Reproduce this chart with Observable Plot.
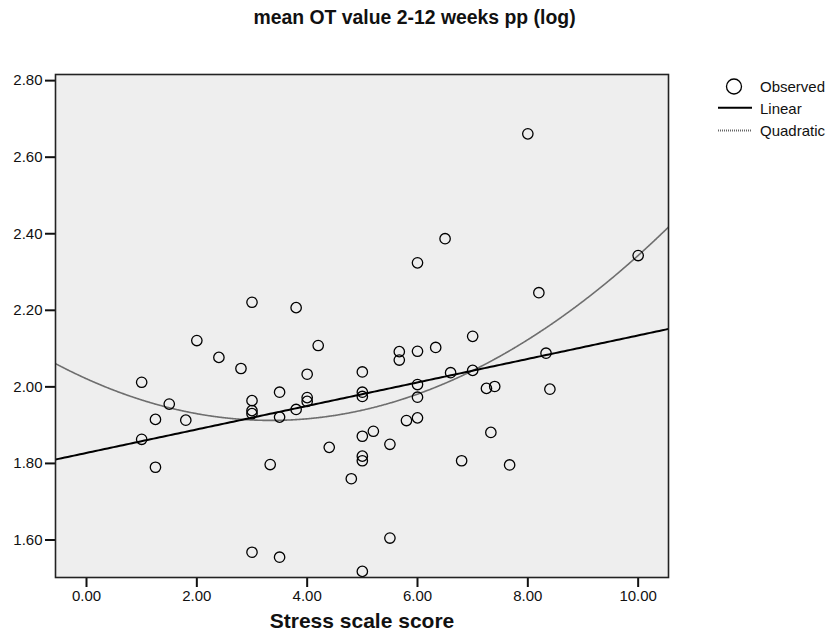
<!DOCTYPE html>
<html><head><meta charset="utf-8">
<script src="https://cdn.jsdelivr.net/npm/d3@7"></script>
<script src="https://cdn.jsdelivr.net/npm/@observablehq/plot@0.6"></script>
<style>
body{margin:0;background:#fff;font-family:"Liberation Sans",Arial,sans-serif;}
#wrap{position:relative;width:829px;height:642px;overflow:hidden;}
#title{position:absolute;left:0;top:8px;width:829px;text-align:center;font-weight:bold;font-size:19.4px;line-height:19px;color:#111;}
#chart{position:absolute;left:0;top:0;}
#legend{position:absolute;left:700px;top:70px;}
</style></head><body>
<div id="wrap">
<div id="chart"></div>
<div id="title">mean OT value 2-12 weeks pp (log)</div>
<svg id="legend" width="129" height="80" font-family="Liberation Sans, Arial, sans-serif" font-size="15">
  <circle cx="34" cy="16.5" r="7.5" fill="none" stroke="#000" stroke-width="1.3"></circle>
  <text x="60" y="21.5" fill="#111">Observed</text>
  <line x1="18" x2="52" y1="37.7" y2="37.7" stroke="#000" stroke-width="2"></line>
  <text x="60" y="43.5" fill="#111">Linear</text>
  <line x1="18" x2="52" y1="60.5" y2="60.5" stroke="#666" stroke-width="2" stroke-dasharray="1,1"></line>
  <text x="60" y="65.5" fill="#111">Quadratic</text>
</svg>
</div>
<script>
const titleText = "mean OT value 2-12 weeks pp (log)";
const xLabel = "Stress scale score";
const stress = [1.0,1.0,1.25,1.25,1.5,1.8,2.0,2.4,2.8,3.0,3.0,3.0,3.0,3.0,3.33,3.5,3.5,3.5,3.8,3.8,4.0,4.0,4.0,4.2,4.4,4.8,5.0,5.0,5.0,5.0,5.0,5.0,5.0,5.2,5.5,5.5,5.67,5.67,5.8,6.0,6.0,6.0,6.0,6.0,6.33,6.5,6.6,6.8,7.0,7.0,7.25,7.33,7.4,7.67,8.0,8.2,8.33,8.4,10.0];
const meanOT = [2.012,1.863,1.915,1.790,1.955,1.913,2.121,2.077,2.048,2.221,1.964,1.938,1.930,1.568,1.797,1.986,1.921,1.555,2.207,1.941,2.033,1.972,1.962,2.108,1.842,1.760,2.039,1.986,1.975,1.871,1.819,1.807,1.518,1.884,1.850,1.605,2.092,2.070,1.912,2.324,2.093,2.006,1.973,1.919,2.103,2.387,2.037,1.807,2.132,2.043,1.996,1.881,2.001,1.796,2.661,2.246,2.088,1.994,2.343];
const xTicks = [0,2,4,6,8,10];
const yTicks = [1.6,1.8,2.0,2.2,2.4,2.6,2.8];
const xDomain = [-0.562, 10.55];
const yDomain = [1.502, 2.816];

const points = stress.map((x,i)=>({x, y: meanOT[i]}));

// least-squares polynomial fit of the observed points
function polyfit(xs, ys, deg){
  const n = deg+1;
  const A = Array.from({length:n},()=>new Array(n+1).fill(0));
  for(let k=0;k<xs.length;k++){
    for(let i=0;i<n;i++){
      for(let j=0;j<n;j++) A[i][j]+=Math.pow(xs[k],i+j);
      A[i][n]+=ys[k]*Math.pow(xs[k],i);
    }
  }
  for(let i=0;i<n;i++){
    let p=i; for(let r=i+1;r<n;r++) if(Math.abs(A[r][i])>Math.abs(A[p][i])) p=r;
    [A[i],A[p]]=[A[p],A[i]];
    for(let r=0;r<n;r++){ if(r===i) continue; const f=A[r][i]/A[i][i]; for(let c=i;c<=n;c++) A[r][c]-=f*A[i][c]; }
  }
  return A.map((row,i)=>row[n]/row[i]);
}
const lin = polyfit(stress, meanOT, 1);
const quad = polyfit(stress, meanOT, 2);
const xs = d3.range(0, 201).map(i => xDomain[0] + (xDomain[1]-xDomain[0])*i/200);
const fitLin = xs.map(x => ({x, y: lin[0]+lin[1]*x}));
const fitQuad = xs.map(x => ({x, y: quad[0]+quad[1]*x+quad[2]*x*x}));

const chart = Plot.plot({
  width: 829, height: 642,
  marginLeft: 55, marginRight: 161, marginTop: 74, marginBottom: 65,
  style: {fontFamily: "Liberation Sans, Arial, sans-serif", fontSize: "15px", color: "#111", background: "transparent"},
  x: {domain: xDomain},
  y: {domain: yDomain},
  marks: [
    Plot.frame({fill: "#eeeeee", stroke: null}),
    Plot.axisX({ticks: xTicks, tickFormat: d3.format(".2f"), tickSize: 10, tickPadding: 3, label: null, strokeWidth: 2}),
    Plot.axisY({ticks: yTicks, tickFormat: d3.format(".2f"), tickSize: 10, tickPadding: 3, label: null, strokeWidth: 2}),
    Plot.line(fitQuad, {x: "x", y: "y", stroke: "#6e6e6e", strokeWidth: 1.6, strokeDasharray: "1,0.6", clip: true}),
    Plot.line(fitLin, {x: "x", y: "y", stroke: "#000", strokeWidth: 2, clip: true}),
    Plot.dot(points, {x: "x", y: "y", r: 5.2, stroke: "#000", strokeWidth: 1.3, fill: "none"}),
    Plot.frame({stroke: "#222", strokeWidth: 1.6}),
    Plot.text([xLabel], {text: d => d, frameAnchor: "bottom", dy: 50, fontWeight: "bold", fontSize: 21, fill: "#111"})
  ]
});
document.getElementById("chart").appendChild(chart);
</script>
</body></html>
